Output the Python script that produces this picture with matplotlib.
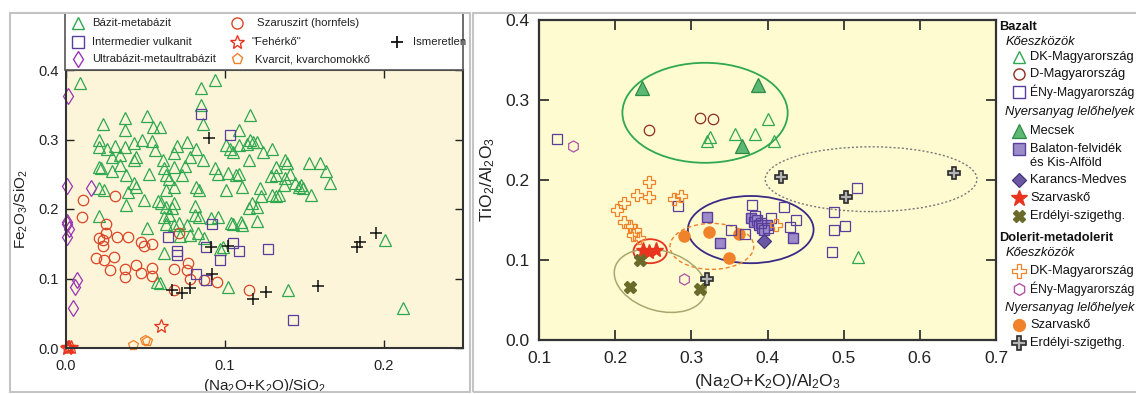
import numpy as np
import matplotlib
matplotlib.use('Agg')
import matplotlib.pyplot as plt
from matplotlib.patches import Ellipse, Rectangle
from matplotlib.lines import Line2D
from matplotlib.ticker import FormatStrFormatter

plt.rcParams['font.family'] = ['Liberation Sans', 'DejaVu Sans']
plt.rcParams['mathtext.default'] = 'regular'

# ------------------------- LEFT PANEL DATA (x=(Na2O+K2O)/SiO2, y=Fe2O3/SiO2)
bazit = np.array([
    (0.009,0.382),(0.085,0.374),(0.094,0.385),(0.085,0.349),(0.086,0.323),(0.023,0.323),(0.037,0.331),
    (0.037,0.314),(0.051,0.334),(0.055,0.318),(0.059,0.318),(0.021,0.299),(0.021,0.289),(0.026,0.287),
    (0.031,0.291),(0.037,0.289),(0.043,0.295),(0.048,0.300),(0.054,0.298),(0.056,0.285),(0.029,0.275),
    (0.034,0.278),(0.043,0.271),(0.044,0.275),(0.021,0.261),(0.022,0.259),(0.034,0.263),(0.029,0.254),
    (0.038,0.249),(0.052,0.250),(0.061,0.271),(0.068,0.280),(0.070,0.290),(0.076,0.297),(0.082,0.287),
    (0.078,0.275),(0.086,0.271),(0.075,0.262),(0.068,0.261),(0.062,0.259),(0.063,0.249),(0.065,0.243),
    (0.068,0.232),(0.063,0.227),(0.073,0.249),(0.082,0.232),(0.084,0.228),(0.094,0.259),(0.096,0.251),
    (0.101,0.228),(0.021,0.230),(0.024,0.228),(0.043,0.237),(0.044,0.232),(0.039,0.224),(0.038,0.206),
    (0.049,0.213),(0.058,0.211),(0.060,0.209),(0.063,0.203),(0.067,0.201),(0.068,0.208),(0.062,0.189),
    (0.065,0.191),(0.063,0.179),(0.068,0.177),(0.071,0.180),(0.076,0.177),(0.078,0.163),(0.083,0.165),
    (0.081,0.204),(0.081,0.191),(0.084,0.189),(0.091,0.187),(0.096,0.189),(0.105,0.179),(0.021,0.190),
    (0.051,0.172),(0.062,0.136),(0.057,0.095),(0.059,0.093),(0.102,0.088),(0.097,0.143),(0.099,0.146),
    (0.087,0.158),(0.072,0.161),(0.102,0.252),(0.107,0.249),
    (0.116,0.335),(0.109,0.313),(0.116,0.300),(0.118,0.297),(0.120,0.297),(0.101,0.292),(0.103,0.287),
    (0.109,0.292),(0.114,0.294),(0.124,0.282),(0.130,0.287),(0.105,0.282),(0.115,0.270),(0.138,0.270),
    (0.139,0.266),(0.132,0.261),(0.153,0.266),(0.160,0.266),(0.164,0.254),(0.166,0.237),(0.109,0.251),
    (0.129,0.247),(0.132,0.249),(0.141,0.251),(0.138,0.244),(0.137,0.235),(0.144,0.237),(0.147,0.232),
    (0.149,0.230),(0.148,0.234),(0.154,0.220),(0.111,0.232),(0.122,0.230),(0.123,0.218),(0.130,0.220),
    (0.132,0.219),(0.134,0.220),(0.117,0.208),(0.115,0.201),(0.120,0.203),(0.104,0.180),(0.110,0.182),
    (0.111,0.177),(0.120,0.183),(0.140,0.083),(0.201,0.155),(0.212,0.057)])

szaruszirt = np.array([
    (0.031,0.219),(0.011,0.213),(0.010,0.188),(0.025,0.179),(0.025,0.165),(0.021,0.158),(0.023,0.155),
    (0.023,0.147),(0.032,0.160),(0.039,0.159),(0.047,0.153),(0.049,0.147),(0.054,0.150),(0.071,0.165),
    (0.019,0.129),(0.024,0.127),(0.030,0.131),(0.028,0.112),(0.037,0.113),(0.037,0.102),(0.044,0.119),
    (0.047,0.108),(0.054,0.115),(0.054,0.104),(0.068,0.114),(0.077,0.123),(0.076,0.112),(0.078,0.099),
    (0.068,0.083),(0.095,0.095),(0.087,0.098),(0.115,0.084)])

intermedier = np.array([
    (0.085,0.337),(0.064,0.160),(0.070,0.140),(0.070,0.134),(0.092,0.179),(0.082,0.107),(0.088,0.146),
    (0.088,0.098),(0.097,0.127),(0.103,0.306),(0.105,0.151),(0.109,0.140),(0.127,0.142),(0.143,0.041)])

ismeretlen = np.array([
    (0.090,0.302),(0.091,0.145),(0.102,0.147),(0.092,0.106),(0.067,0.084),(0.073,0.079),(0.078,0.087),
    (0.118,0.070),(0.126,0.080),(0.159,0.089),(0.183,0.146),(0.185,0.152),(0.195,0.166)])

ultrabazit = np.array([
    (0.0015,0.362),(0.0004,0.233),(0.0155,0.230),(0.0004,0.182),(0.0004,0.178),(0.002,0.171),
    (0.0004,0.160),(0.007,0.098),(0.0057,0.088),(0.0046,0.057)])

feherko = np.array([(0.060,0.031),(0.001,0.002),(0.002,0.001),(0.0005,0.0005),(0.003,0.002)])
kvarcit = np.array([(0.042,0.005),(0.050,0.012),(0.051,0.010)])

left_xticks = [0.0, 0.1, 0.2]
left_yticks = [0.0, 0.1, 0.2, 0.3, 0.4]

# ------------------------- RIGHT PANEL DATA (x=(Na2O+K2O)/Al2O3, y=TiO2/Al2O3)
b_dk = np.array([(0.325,0.254),(0.321,0.249),(0.357,0.257),(0.384,0.258),(0.401,0.276),(0.409,0.249),(0.519,0.104)])
b_d = np.array([(0.244,0.263),(0.311,0.278),(0.329,0.276)])
b_eny = np.array([(0.124,0.251),(0.282,0.168),(0.352,0.138),(0.371,0.133),(0.380,0.169),(0.404,0.153),
                  (0.422,0.166),(0.437,0.150),(0.429,0.141),(0.487,0.160),(0.487,0.138),(0.502,0.142),
                  (0.485,0.110),(0.517,0.190),(0.383,0.155),(0.392,0.146),(0.400,0.140)])
b_mecsek = np.array([(0.235,0.315),(0.388,0.319),(0.367,0.242)])
b_balaton = np.array([(0.321,0.154),(0.338,0.121),(0.434,0.128),(0.378,0.152),(0.382,0.147),(0.386,0.150),
                      (0.389,0.144),(0.393,0.140),(0.399,0.144),(0.396,0.137)])
b_karancs = np.array([(0.395,0.124)])
b_szarvasko = np.array([(0.237,0.113),(0.253,0.113),(0.245,0.110)])
b_erdely = np.array([(0.232,0.100),(0.220,0.066),(0.311,0.064)])
d_dk = np.array([(0.244,0.198),(0.229,0.181),(0.244,0.179),(0.211,0.171),(0.202,0.1625),(0.211,0.148),
                 (0.220,0.142),(0.226,0.1375),(0.224,0.131),(0.231,0.127),(0.277,0.176),(0.286,0.180),
                 (0.411,0.144)])
d_eny = np.array([(0.144,0.242),(0.290,0.076)])
d_szarvasko = np.array([(0.290,0.130),(0.323,0.135),(0.362,0.1325),(0.350,0.103)])
d_erdely = np.array([(0.418,0.204),(0.645,0.209),(0.503,0.179),(0.320,0.076)])

# ellipses: center x, center y, width, height, angle
ell_mecsek = (0.318, 0.284, 0.217, 0.125, 0)
ell_erdely_dol = (0.536, 0.201, 0.278, 0.081, 0)
ell_balaton = (0.378, 0.138, 0.165, 0.084, 0)
ell_szarv_dol = (0.327, 0.117, 0.110, 0.0575, 0)
ell_szarv_bas = (0.246, 0.111, 0.044, 0.030, 0)
ell_erdely_bas = (0.259, 0.074, 0.123, 0.075, -15)

right_xticks = [0.1, 0.2, 0.3, 0.4, 0.5, 0.6, 0.7]
right_yticks = [0.0, 0.1, 0.2, 0.3, 0.4]

# ------------------------- colours
GREEN = '#2FA84F'; GREEN_F = '#5DB874'
RED = '#DB4527'; BROWN = '#8E2B1C'
PURPLE = '#5A3E9E'; PURPLE_F = '#9C8BC9'; DIAM = '#6B56A3'
MAGENTA = '#9A35B5'; ORANGE = '#F0822A'; STAR = '#E8341F'
OLIVE = '#6A6A2A'; PINK = '#B052A5'

W, H = 1136, 394
fig = plt.figure(figsize=(W/100, H/100), dpi=100)

def fx(px):
    return px / W
def fy(py):
    return 1 - py / H

# panel frames
fig.add_artist(Rectangle((fx(10), fy(392)), fx(470) - fx(10), fy(13) - fy(392),
                         transform=fig.transFigure, fill=False, ec='#C4C4C4', lw=1.5))
fig.add_artist(Rectangle((fx(473), fy(392)), fx(1140) - fx(473), fy(13) - fy(392),
                         transform=fig.transFigure, fill=False, ec='#C4C4C4', lw=1.5))

# ========================= LEFT AXES
axL = fig.add_axes([fx(66), fy(348), fx(463) - fx(66), fy(70) - fy(348)])
axL.set_facecolor('#FCF5D9')
op = dict(ls='none', mfc='none', mew=0.9)
axL.plot(bazit[:, 0], bazit[:, 1], marker='^', ms=8, mec=GREEN, **op)
axL.plot(szaruszirt[:, 0], szaruszirt[:, 1], marker='o', ms=7.5, mec=RED, **op)
axL.plot(intermedier[:, 0], intermedier[:, 1], marker='s', ms=6.8, mec=PURPLE, **op)
axL.plot(ismeretlen[:, 0], ismeretlen[:, 1], marker='+', ms=8, mec='#111111', ls='none', mew=1.1)
axL.plot(ultrabazit[:, 0], ultrabazit[:, 1], marker='d', ms=8, mec=MAGENTA, clip_on=False, **op)
axL.plot(feherko[:, 0], feherko[:, 1], marker='*', ms=10, mec=STAR, clip_on=False, **op)
axL.plot(kvarcit[:, 0], kvarcit[:, 1], marker='p', ms=7.5, mec=ORANGE, clip_on=False, **op)
axL.set_xlim(0, 0.25)
axL.set_ylim(0, 0.4)
axL.set_xticks(left_xticks)
axL.set_yticks(left_yticks)
axL.xaxis.set_major_formatter(FormatStrFormatter('%.1f'))
axL.yaxis.set_major_formatter(FormatStrFormatter('%.1f'))
axL.tick_params(direction='in', top=True, right=True, length=6, width=1.0, labelsize=10.5,
                color='#222222', labelcolor='#222222')
axL.tick_params(axis='x', pad=8)
axL.tick_params(axis='y', pad=5)
for s in axL.spines.values():
    s.set_linewidth(1.5); s.set_color('#333333')
axL.set_xlabel(r'(Na$_2$O+K$_2$O)/SiO$_2$', fontsize=11, labelpad=3, color='#222222')
axL.set_ylabel(r'Fe$_2$O$_3$/SiO$_2$', fontsize=11, labelpad=6, color='#222222')

# left legend box
fig.add_artist(Rectangle((fx(65), fy(70)), fx(463) - fx(65), fy(13) - fy(70),
                         transform=fig.transFigure, fc='white', ec='#555555', lw=1.2, zorder=0.5))
left_legend = [
    (78, 23, '^', GREEN, 'Bázit-metabázit', 92),
    (78, 42, 's', PURPLE, 'Intermedier vulkanit', 92),
    (78, 59, 'd', MAGENTA, 'Ultrabázit-metaultrabázit', 92),
    (237, 23, 'o', RED, 'Szaruszirt (hornfels)', 257),
    (237, 42, '*', STAR, '"Fehérkő"', 252),
    (237, 59, 'p', ORANGE, 'Kvarcit, kvarchomokkő', 255),
    (397, 42, '+', '#111111', 'Ismeretlen', 413),
]
for mx, my, mk, col, lab, tx in left_legend:
    ms = 10 if mk == '*' else 8
    fig.add_artist(Line2D([fx(mx)], [fy(my)], transform=fig.transFigure, marker=mk, ms=ms,
                          mfc='none', mec=col, mew=1.0 if mk != '+' else 1.3, ls='none'))
    fig.text(fx(tx), fy(my), lab, fontsize=8.2, va='center', ha='left', color='#222222')

# ========================= RIGHT AXES
axR = fig.add_axes([fx(539), fy(340), fx(996) - fx(539), fy(20) - fy(340)])
axR.set_facecolor('#FEFBD1')

ell_styles = [
    (ell_mecsek, dict(ec=GREEN, lw=1.3, ls='-')),
    (ell_erdely_dol, dict(ec='#7A7A7A', lw=1.0, ls=(0, (1.5, 1.5)))),
    (ell_balaton, dict(ec='#3A2A85', lw=1.3, ls='-')),
    (ell_szarv_dol, dict(ec=ORANGE, lw=1.0, ls=(0, (3, 2)))),
    (ell_szarv_bas, dict(ec=STAR, lw=1.3, ls='-')),
    (ell_erdely_bas, dict(ec='#A9A76E', lw=1.1, ls='-')),
]
for (cx, cy, w, h, ang), st in ell_styles:
    axR.add_patch(Ellipse((cx, cy), w, h, angle=ang, fill=False, zorder=2, **st))

axR.plot(b_d[:, 0], b_d[:, 1], marker='o', ms=7.5, mec=BROWN, zorder=3, **op)
axR.plot(b_dk[:, 0], b_dk[:, 1], marker='^', ms=9, mec=GREEN, zorder=3, **op)
axR.plot(b_mecsek[:, 0], b_mecsek[:, 1], marker='^', ms=9.5, mfc=GREEN_F, mec='#2E8B45', mew=0.9, ls='none', zorder=3)
axR.plot(d_szarvasko[:, 0], d_szarvasko[:, 1], marker='o', ms=8, mfc=ORANGE, mec=ORANGE, ls='none', zorder=3)
axR.plot(b_balaton[:, 0], b_balaton[:, 1], marker='s', ms=7.5, mfc=PURPLE_F, mec=PURPLE, mew=1.0, ls='none', zorder=3)
axR.plot(b_eny[:, 0], b_eny[:, 1], marker='s', ms=7.5, mec=PURPLE, zorder=4, **op)
axR.plot(b_karancs[:, 0], b_karancs[:, 1], marker='D', ms=7, mfc=DIAM, mec='#46357F', mew=0.9, ls='none', zorder=4)
axR.plot(d_dk[:, 0], d_dk[:, 1], marker='P', ms=9, mec=ORANGE, zorder=4, **op)
axR.plot(d_eny[:, 0], d_eny[:, 1], marker='h', ms=8, mec=PINK, zorder=4, **op)
axR.plot(b_szarvasko[:, 0], b_szarvasko[:, 1], marker='*', ms=11, mfc=STAR, mec=STAR, ls='none', zorder=5)
axR.plot(b_erdely[:, 0], b_erdely[:, 1], marker='X', ms=9, mfc=OLIVE, mec=OLIVE, ls='none', zorder=5)
axR.plot(d_erdely[:, 0], d_erdely[:, 1], marker='P', ms=9, mfc='#B4B4B4', mec='#2A2A2A', mew=1.2, ls='none', zorder=5)

axR.set_xlim(0.1, 0.7)
axR.set_ylim(0, 0.4)
axR.set_xticks(right_xticks)
axR.set_yticks(right_yticks)
axR.xaxis.set_major_formatter(FormatStrFormatter('%.1f'))
axR.yaxis.set_major_formatter(FormatStrFormatter('%.1f'))
axR.tick_params(direction='in', top=True, right=True, length=7, width=1.2, labelsize=12.5,
                color='#222222', labelcolor='#222222')
axR.tick_params(axis='x', pad=8)
axR.tick_params(axis='y', pad=7)
for s in axR.spines.values():
    s.set_linewidth(1.6); s.set_color('#333333')
axR.set_xlabel(r'(Na$_2$O+K$_2$O)/Al$_2$O$_3$', fontsize=12.5, labelpad=4, color='#222222')
axR.set_ylabel(r'TiO$_2$/Al$_2$O$_3$', fontsize=12.5, labelpad=6, color='#222222')

# right legend
right_headers = [
    (999, 27, 'Bazalt', 'bold', 'normal'),
    (1006, 42, 'Kőeszközök', 'normal', 'italic'),
    (1005, 112, 'Nyersanyag lelőhelyek', 'normal', 'italic'),
    (999, 238, 'Dolerit-metadolerit', 'bold', 'normal'),
    (1006, 253, 'Kőeszközök', 'normal', 'italic'),
    (1005, 308, 'Nyersanyag lelőhelyek', 'normal', 'italic'),
]
for tx, ty, lab, fw, fs in right_headers:
    fig.text(fx(tx), fy(ty), lab, fontsize=9.3, fontweight=fw, fontstyle=fs, va='center', ha='left', color='#111111')

right_items = [
    (57, dict(marker='^', ms=9, mfc='none', mec=GREEN, mew=1.0), 'DK-Magyarország', 9.3),
    (74, dict(marker='o', ms=8, mfc='none', mec=BROWN, mew=1.0), 'D-Magyarország', 9.3),
    (92, dict(marker='s', ms=8, mfc='none', mec=PURPLE, mew=1.0), 'ÉNy-Magyarország', 8.7),
    (131, dict(marker='^', ms=9.5, mfc=GREEN_F, mec='#2E8B45', mew=0.9), 'Mecsek', 9.3),
    (149, dict(marker='s', ms=8, mfc=PURPLE_F, mec=PURPLE, mew=1.0), 'Balaton-felvidék', 9.3),
    (180, dict(marker='D', ms=7, mfc=DIAM, mec='#46357F', mew=0.9), 'Karancs-Medves', 9.3),
    (198, dict(marker='*', ms=12, mfc=STAR, mec=STAR), 'Szarvaskő', 9.3),
    (216, dict(marker='X', ms=9, mfc=OLIVE, mec=OLIVE), 'Erdélyi-szigethg.', 9.3),
    (271, dict(marker='P', ms=9.5, mfc='none', mec=ORANGE, mew=0.9), 'DK-Magyarország', 9.3),
    (289, dict(marker='h', ms=8.5, mfc='none', mec=PINK, mew=1.0), 'ÉNy-Magyarország', 8.7),
    (325, dict(marker='o', ms=8.5, mfc=ORANGE, mec=ORANGE), 'Szarvaskő', 9.3),
    (343, dict(marker='P', ms=9.5, mfc='#B4B4B4', mec='#2A2A2A', mew=1.2), 'Erdélyi-szigethg.', 9.3),
]
for ty, mst, lab, fsz in right_items:
    fig.add_artist(Line2D([fx(1019)], [fy(ty)], transform=fig.transFigure, ls='none', **mst))
    fig.text(fx(1030), fy(ty), lab, fontsize=fsz, va='center', ha='left', color='#111111')
fig.text(fx(1030), fy(163), 'és Kis-Alföld', fontsize=9.3, va='center', ha='left', color='#111111')

fig.savefig('out.png', dpi=100)
